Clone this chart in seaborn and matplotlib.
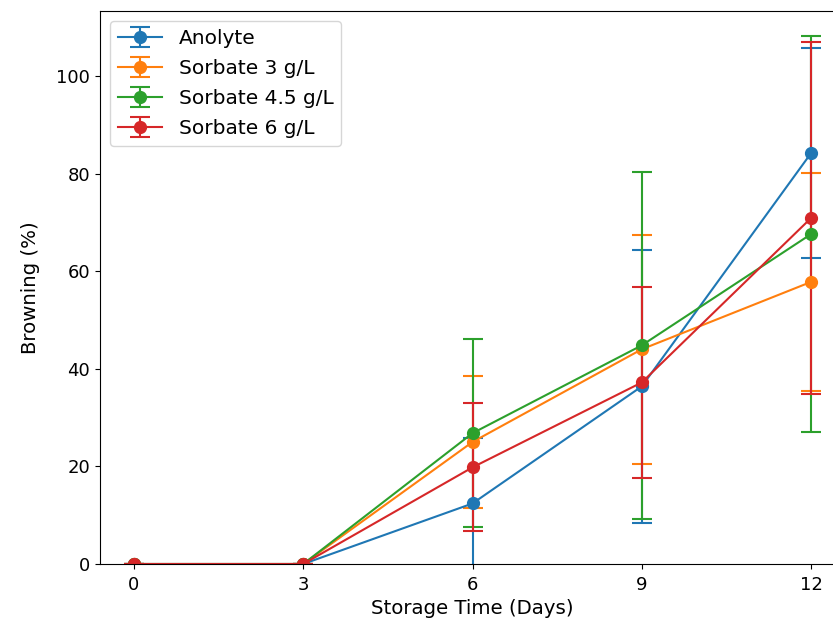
import numpy as np
import pandas as pd
import matplotlib
matplotlib.use("Agg")
import matplotlib.pyplot as plt
import seaborn as sns

# storage days and browning values
days = [0, 3, 6, 9, 12]
labels = ["Anolyte", "Sorbate 3 g/L", "Sorbate 4.5 g/L", "Sorbate 6 g/L"]

anolyte = [0, 0, 12.4, 36.4, 84.2]
anolyte_err = [0, 0, 13.5, 28.0, 21.5]
sorbate_3 = [0, 0, 25.0, 44.0, 57.8]
sorbate_3_err = [0, 0, 13.5, 23.5, 22.4]
sorbate_45 = [0, 0, 26.8, 44.8, 67.6]
sorbate_45_err = [0, 0, 19.3, 35.5, 40.6]
sorbate_6 = [0, 0, 19.8, 37.2, 70.9]
sorbate_6_err = [0, 0, 13.1, 19.5, 36.1]

means = [anolyte, sorbate_3, sorbate_45, sorbate_6]
errors = [anolyte_err, sorbate_3_err, sorbate_45_err, sorbate_6_err]

plt.rcParams['font.family'] = ['DejaVu Sans']
plt.rcParams['font.size'] = 13

colors = sns.color_palette("tab10", 4)

fig = plt.figure(figsize=(8.33, 6.28), dpi=100)
ax = fig.add_axes([100 / 833, 64 / 628, 745 / 833, 553 / 628])

for lab, y, e, c in zip(labels, means, errors, colors):
    ax.errorbar(days, y, yerr=e, fmt='-o', color=c, label=lab,
                capsize=7, markersize=8.5, linewidth=1.5, elinewidth=1.5,
                capthick=1.5)

ax.set_xlim(-0.6, 12.6)
ax.set_ylim(0, 113.3)
ax.set_xticks(days)
ax.tick_params(labelsize=13)
ax.tick_params(axis='x', pad=5)
ax.set_xlabel("Storage Time (Days)", fontsize=14.2, labelpad=4)
ax.set_ylabel("Browning (%)", fontsize=14.2, labelpad=12)
ax.legend(loc="upper left", fontsize=14.5, handlelength=2.2,
          borderaxespad=0.5, labelspacing=0.55)

fig.savefig("out.png", dpi=100)
